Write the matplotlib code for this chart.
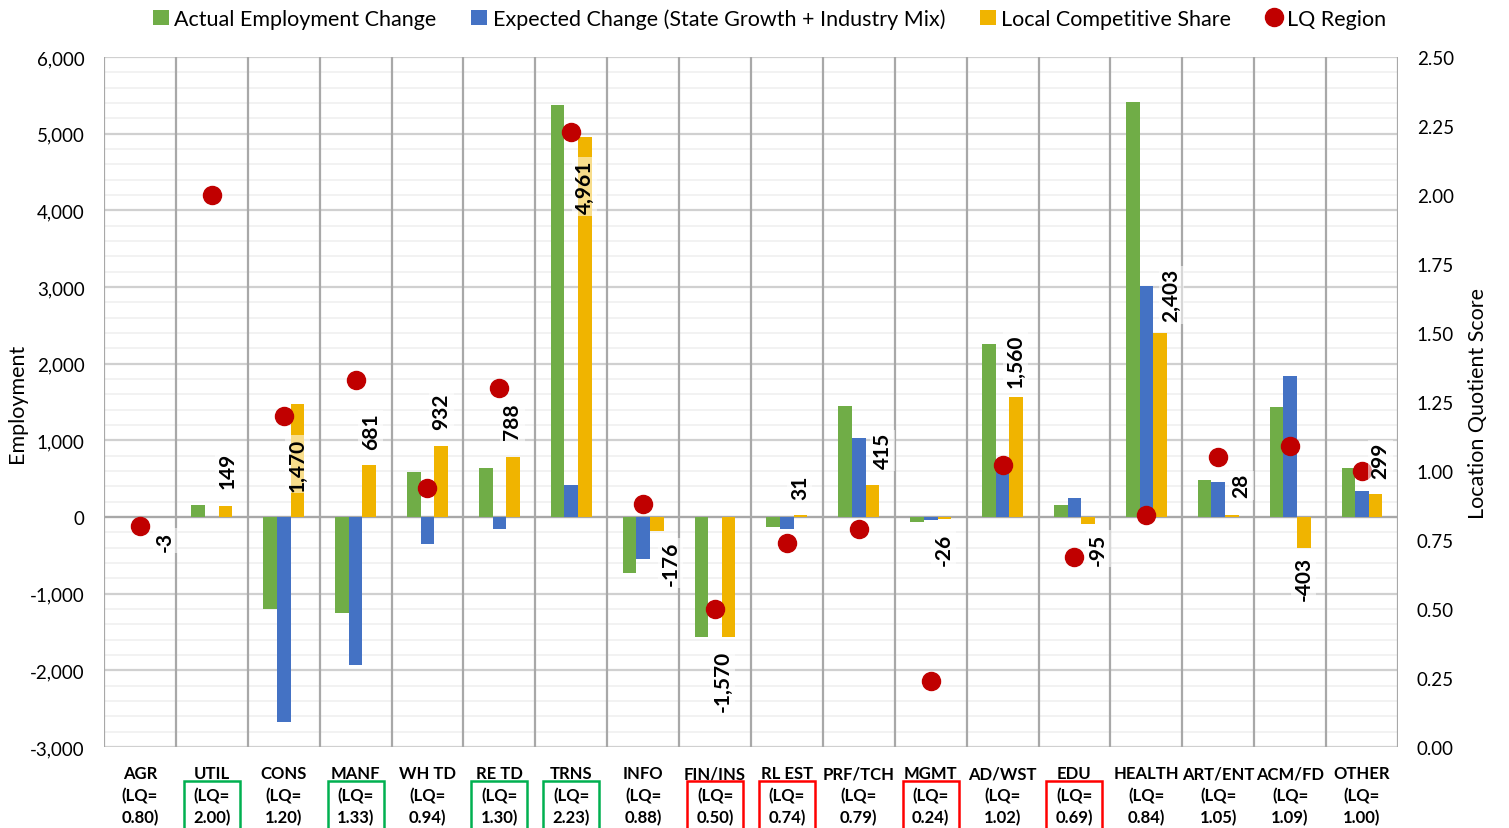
import matplotlib
matplotlib.use("Agg")
import matplotlib.pyplot as plt
import matplotlib.ticker as mticker
from matplotlib.patches import Rectangle
from matplotlib.transforms import blended_transform_factory
import numpy as np

plt.rcParams['font.family'] = ['Lato', 'DejaVu Sans']

categories = ["AGR", "UTIL", "CONS", "MANF", "WH TD", "RE TD", "TRNS", "INFO", "FIN/INS",
              "RL EST", "PRF/TCH", "MGMT", "AD/WST", "EDU", "HEALTH", "ART/ENT", "ACM/FD", "OTHER"]
lq_region = [0.80, 2.00, 1.20, 1.33, 0.94, 1.30, 2.23, 0.88, 0.50,
             0.74, 0.79, 0.24, 1.02, 0.69, 0.84, 1.05, 1.09, 1.00]
actual_change = [-3, 155, -1205, -1255, 585, 636, 5373, -724, -1571,
                 -127, 1450, -60, 2252, 157, 5410, 487, 1432, 638]
expected_change = [0, 6, -2675, -1936, -347, -152, 412, -548, -1,
                   -158, 1035, -34, 692, 252, 3007, 459, 1835, 339]
local_share = [-3, 149, 1470, 681, 932, 788, 4961, -176, -1570,
               31, 415, -26, 1560, -95, 2403, 28, -403, 299]
# highlighted LQ labels: green = strong, red = weak
box_colors = {"UTIL": "#00B050", "MANF": "#00B050", "RE TD": "#00B050", "TRNS": "#00B050",
              "FIN/INS": "#FF0000", "RL EST": "#FF0000", "MGMT": "#FF0000", "EDU": "#FF0000"}

# data label placement (x offset in category units, y centre in employment units)
label_dx = [0.35, 0.22, 0.19, 0.21, 0.19, 0.18, 0.19, 0.38, 0.11,
            0.18, 0.33, 0.18, 0.18, 0.33, 0.35, 0.32, 0.19, 0.26]
label_y = [-310, 610, 690, 1130, 1390, 1250, 4310, -600, -2135,
           400, 870, -415, 2045, -415, 2900, 415, -795, 740]

green = "#70AD47"
blue = "#4472C4"
gold = "#F0B400"
red = "#C00000"

fig = plt.figure(figsize=(15.09, 8.29), dpi=100)
ax = fig.add_axes([0.0689, 0.0977, 0.8575, 0.8323])
x = np.arange(len(categories))
w = 0.19

ax.set_ylim(-3000, 6000)
ax.set_xlim(-0.5, len(categories) - 0.5)
ax.yaxis.set_major_locator(mticker.MultipleLocator(1000))
ax.yaxis.set_minor_locator(mticker.MultipleLocator(200))
ax.yaxis.set_major_formatter(mticker.FuncFormatter(lambda v, p: f"{int(v):,}"))
ax.grid(axis="y", which="major", color="#D0D0D0", lw=1.6, zorder=0)
ax.grid(axis="y", which="minor", color="#F0F0F0", lw=1.2, zorder=0)
for k in range(len(categories) + 1):
    ax.axvline(k - 0.5, color="#A8A8A8", lw=1.6, zorder=1)
ax.axhline(0, color="#A8A8A8", lw=1.6, zorder=1)
ax.set_axisbelow(True)

ax.bar(x - w, actual_change, w, color=green, label="Actual Employment Change", zorder=2)
ax.bar(x, expected_change, w, color=blue, label="Expected Change (State Growth + Industry Mix)", zorder=2)
ax.bar(x + w, local_share, w, color=gold, label="Local Competitive Share", zorder=2)

for s in ax.spines.values():
    s.set_visible(False)
ax.tick_params(axis="both", which="both", length=0)
ax.tick_params(axis="y", labelsize=13.5, pad=14)
ax.set_xticks(x)
ax.set_xticklabels([f"{c}\n(LQ=\n{v:.2f})" for c, v in zip(categories, lq_region)],
                   fontsize=12, fontweight="bold", linespacing=1.45)
ax.tick_params(axis="x", pad=13)
ax.set_ylabel("Employment", fontsize=15.5, labelpad=2)

ax2 = ax.twinx()
ax2.set_ylim(0, 2.5)
ax2.yaxis.set_major_locator(mticker.MultipleLocator(0.25))
ax2.yaxis.set_major_formatter(mticker.FormatStrFormatter("%.2f"))
for s in ax2.spines.values():
    s.set_visible(False)
ax2.tick_params(axis="y", length=0, labelsize=13.5, pad=13.5)
ax2.set_ylabel("Location Quotient Score", fontsize=15.5, labelpad=10)
ax2.plot(x, lq_region, "o", color=red, markersize=13, label="LQ Region", zorder=3)

for i, v in enumerate(local_share):
    ax2.text(x[i] + label_dx[i], label_y[i], f"{v:,}", transform=ax.transData,
             rotation=90, ha="center", va="center", fontsize=15, fontweight="bold",
             bbox=dict(boxstyle="square,pad=0.12", fc="white", ec="none", alpha=0.55), zorder=5)

trans = blended_transform_factory(ax.transData, fig.transFigure)
for i, c in enumerate(categories):
    if c in box_colors:
        ax.add_patch(Rectangle((x[i] - 0.39, -0.02), 0.78, 0.0567 + 0.02, transform=trans,
                               fill=False, ec=box_colors[c], lw=1.8, clip_on=False))

h1, l1 = ax.get_legend_handles_labels()
h2, l2 = ax2.get_legend_handles_labels()
fig.legend(h1 + h2, l1 + l2, loc="upper center", bbox_to_anchor=(0.51, 1.012), ncol=4,
           frameon=False, fontsize=15.5, handlelength=0.75, handleheight=0.75,
           handletextpad=0.25, columnspacing=1.6)

fig.savefig("out.png", dpi=100)
